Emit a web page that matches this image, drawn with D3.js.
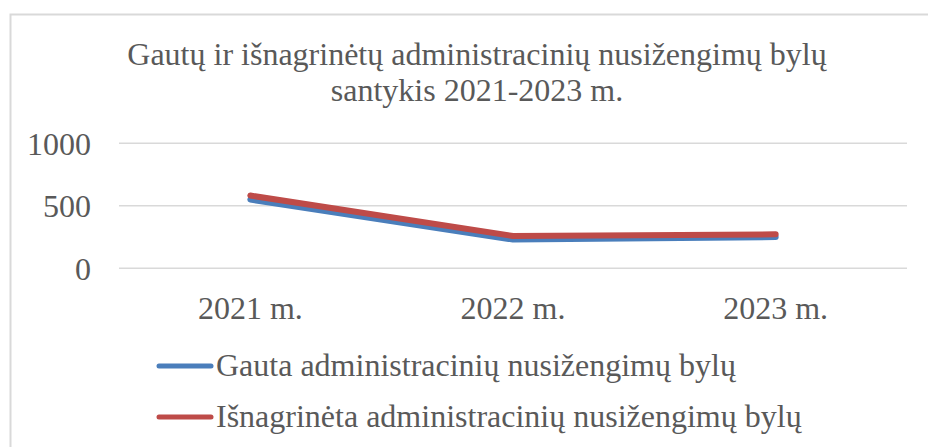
<!DOCTYPE html>
<html>
<head>
<meta charset="utf-8">
<script src="https://cdn.jsdelivr.net/npm/d3@7"></script>
<style>
  body { margin: 0; background: #fff; }
  text { font-family: "Liberation Serif", "Times New Roman", serif; fill: #595959; }
</style>
</head>
<body>
<script>
const categories = ["2021 m.", "2022 m.", "2023 m."];
const gauta = [550, 230, 250];
const isnagrineta = [582, 258, 272];
const yTicks = [0, 500, 1000];
const titleLines = ["Gautų ir išnagrinėtų administracinių nusižengimų bylų", "santykis 2021-2023 m."];
const seriesNames = ["Gauta administracinių nusižengimų bylų", "Išnagrinėta administracinių nusižengimų bylų"];
const colors = ["#4a7ebb", "#be4b48"];

const width = 928, height = 447;

const svg = d3.select("body").append("svg")
    .attr("width", width)
    .attr("height", height);

// chart frame, runs off right & bottom edges
svg.append("rect")
    .attr("x", 10.5).attr("y", 14.5)
    .attr("width", 940).attr("height", 460)
    .attr("fill", "#fff")
    .attr("stroke", "#d9d9d9")
    .attr("stroke-width", 2);

svg.append("g").selectAll("text")
    .data(titleLines)
  .enter().append("text")
    .attr("x", 477)
    .attr("y", (d, i) => 65 + i * 36)
    .attr("text-anchor", "middle")
    .style("font-size", "32px")
    .text(d => d);

const x = d3.scaleBand()
    .domain(categories)
    .range([119, 907]);

const y = d3.scaleLinear()
    .domain([0, 1000])
    .range([268.3, 143.3]);

svg.append("g").selectAll("line")
    .data(yTicks)
  .enter().append("line")
    .attr("x1", 119).attr("x2", 907)
    .attr("y1", d => y(d)).attr("y2", d => y(d))
    .attr("stroke", "#d9d9d9")
    .attr("stroke-width", 1.5);

svg.append("g").selectAll("text")
    .data(yTicks)
  .enter().append("text")
    .attr("x", 91)
    .attr("y", d => y(d))
    .attr("dy", "0.35em")
    .attr("text-anchor", "end")
    .style("font-size", "32px")
    .text(d => d);

svg.append("g").selectAll("text")
    .data(categories)
  .enter().append("text")
    .attr("x", d => x(d) + x.bandwidth() / 2)
    .attr("y", 319)
    .attr("text-anchor", "middle")
    .style("font-size", "32px")
    .text(d => d);

const line = d3.line()
    .x((d, i) => x(categories[i]) + x.bandwidth() / 2)
    .y(d => y(d));

[gauta, isnagrineta].forEach((s, k) => {
  svg.append("path")
      .datum(s)
      .attr("d", line)
      .attr("fill", "none")
      .attr("stroke", colors[k])
      .attr("stroke-width", 6)
      .attr("stroke-linecap", "round")
      .attr("stroke-linejoin", "round");
});

const legend = svg.append("g").selectAll("g")
    .data(seriesNames)
  .enter().append("g")
    .attr("transform", (d, i) => "translate(0," + (366 + i * 51) + ")");

legend.append("line")
    .attr("x1", 159).attr("x2", 211)
    .attr("stroke", (d, i) => colors[i])
    .attr("stroke-width", 5)
    .attr("stroke-linecap", "round");

legend.append("text")
    .attr("x", 216)
    .attr("y", 10)
    .style("font-size", "32px")
    .text(d => d);
</script>
</body>
</html>
